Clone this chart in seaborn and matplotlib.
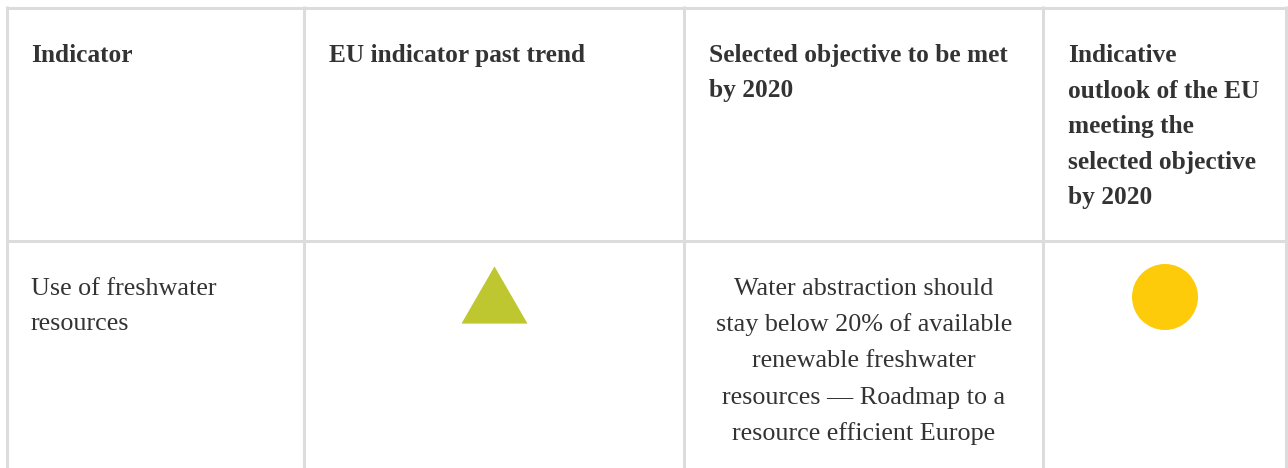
import matplotlib
matplotlib.use("Agg")

import matplotlib.pyplot as plt
import numpy as np
import pandas as pd
import seaborn as sns

# Table content
headers = [
    ["Indicator"],
    ["EU indicator past trend"],
    ["Selected objective to be met", "by 2020"],
    ["Indicative", "outlook of the EU", "meeting the", "selected objective", "by 2020"],
]
indicator = ["Use of freshwater", "resources"]
objective = [
    "Water abstraction should",
    "stay below 20% of available",
    "renewable freshwater",
    "resources \u2014 Roadmap to a",
    "resource efficient Europe",
]
trend = "up"          # past trend symbol
outlook = "amber"     # outlook symbol

# Layout (pixels)
W, H = 1288, 468
col_edges = [7.5, 304.5, 684.5, 1043.5, 1286.5]
top_y, header_bottom = 7.5, 240.5
pads = [23.5, 25, 24.5, 24.5]
line_h = 35.5
grid_color = "#dcdcdc"
text_color = "#333333"

sns.set_theme(style="white")
plt.rcParams["font.family"] = ["Liberation Serif", "DejaVu Serif"]

fig = plt.figure(figsize=(W / 100, H / 100), dpi=100)
ax = fig.add_axes([0, 0, 1, 1])

# grid lines
ax.vlines(col_edges, top_y - 1.5, H, color=grid_color, lw=2.2)
ax.hlines([top_y, header_bottom], col_edges[0], col_edges[-1], color=grid_color, lw=2.2)

# header text
for i, lines in enumerate(headers):
    for j, s in enumerate(lines):
        ax.text(col_edges[i] + pads[i], 62 + j * line_h, s, fontsize=18.3,
                fontweight="bold", color=text_color, va="baseline", ha="left")

# body text
body_base = header_bottom + 54.5
for j, s in enumerate(indicator):
    ax.text(col_edges[0] + pads[0], body_base + j * line_h, s, fontsize=18.8,
            color=text_color, va="baseline", ha="left")
centre3 = (col_edges[2] + col_edges[3]) / 2
for j, s in enumerate(objective):
    ax.text(centre3, body_base + j * 36.2, s, fontsize=18.8,
            color=text_color, va="baseline", ha="center")

# symbols
centres = [(col_edges[k] + col_edges[k + 1]) / 2 for k in range(4)]
sym = pd.DataFrame({
    "x": [centres[1], centres[3]],
    "y": [header_bottom + 54.5, header_bottom + 56.5],
    "kind": [trend, outlook],
})
tri = np.array([[-1, -0.866], [1, -0.866], [0, 0.866]])
sns.scatterplot(data=sym, x="x", y="y", hue="kind", style="kind",
                palette={"up": "#bec72f", "amber": "#fdcb0a"},
                markers={"up": tri, "amber": "o"},
                s=(66 * 0.72) ** 2, linewidth=0, legend=False, ax=ax)
ax.set_xlim(0, W)
ax.set_ylim(H, 0)
ax.axis("off")

fig.savefig("out.png", dpi=100)
